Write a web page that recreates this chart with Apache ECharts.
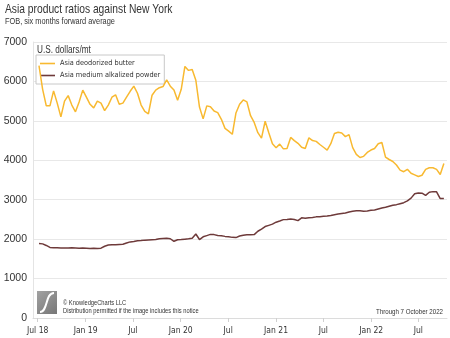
<!DOCTYPE html>
<html>
<head>
<meta charset="utf-8">
<script src="https://cdn.jsdelivr.net/npm/echarts@6/dist/echarts.min.js"></script>
<style>
html,body{margin:0;padding:0;background:#fff;}
#chart{width:450px;height:338px;}
</style>
</head>
<body>
<div id="chart"></div>
<script>
const dates = [
'2018-07-06','2018-07-20','2018-08-03','2018-08-17','2018-08-31','2018-09-14','2018-09-28','2018-10-12','2018-10-26','2018-11-09','2018-11-23','2018-12-07','2018-12-21',
'2019-01-04','2019-01-18','2019-02-01','2019-02-15','2019-03-01','2019-03-15','2019-03-29','2019-04-12','2019-04-26','2019-05-10','2019-05-24','2019-06-07','2019-06-21','2019-07-05','2019-07-19','2019-08-02','2019-08-16','2019-08-30','2019-09-13','2019-09-27','2019-10-11','2019-10-25','2019-11-08','2019-11-22','2019-12-06','2019-12-20',
'2020-01-03','2020-01-17','2020-01-31','2020-02-14','2020-02-28','2020-03-13','2020-03-27','2020-04-10','2020-04-24','2020-05-08','2020-05-22','2020-06-05','2020-06-19','2020-07-03','2020-07-17','2020-07-31','2020-08-14','2020-08-28','2020-09-11','2020-09-25','2020-10-09','2020-10-23','2020-11-06','2020-11-20','2020-12-04','2020-12-18',
'2021-01-01','2021-01-15','2021-01-29','2021-02-12','2021-02-26','2021-03-12','2021-03-26','2021-04-09','2021-04-23','2021-05-07','2021-05-21','2021-06-04','2021-06-18','2021-07-02','2021-07-16','2021-07-30','2021-08-13','2021-08-27','2021-09-10','2021-09-24','2021-10-08','2021-10-22','2021-11-05','2021-11-19','2021-12-03','2021-12-17','2021-12-31',
'2022-01-14','2022-01-28','2022-02-11','2022-02-25','2022-03-11','2022-03-25','2022-04-08','2022-04-22','2022-05-06','2022-05-20','2022-06-03','2022-06-17','2022-07-01','2022-07-15','2022-07-29','2022-08-12','2022-08-26','2022-09-09','2022-09-23','2022-10-07'];

const butter = [
6400,5800,5380,5380,5760,5450,5100,5500,5640,5400,
5230,5480,5780,5600,5420,5330,5500,5450,5260,5400,
5600,5660,5420,5450,5600,5750,5880,5700,5400,5240,
5180,5650,5780,5840,5870,6040,5880,5780,5520,5800,
6380,6280,6300,6030,5350,5050,5380,5360,5250,5210,
5040,4810,4740,4660,5200,5420,5530,5480,5130,4960,
4700,4560,4990,4700,4420,4320,4410,4290,4300,4580,
4500,4430,4330,4300,4570,4500,4480,4400,4330,4260,
4420,4680,4710,4690,4600,4650,4320,4150,4070,4100,
4200,4260,4300,4420,4450,4080,4020,3970,3880,3750,
3710,3770,3670,3630,3590,3620,3770,3810,3810,3770,
3640,3920];

const powder = [
1890,1880,1840,1790,1780,1780,1775,1775,1775,1780,
1775,1770,1775,1770,1765,1770,1760,1770,1820,1850,
1860,1860,1865,1870,1900,1930,1940,1960,1965,1975,
1980,1985,1990,2010,2015,2020,2010,1945,1985,1990,
2000,2010,2025,2130,1990,2060,2090,2120,2115,2095,
2085,2070,2060,2045,2040,2080,2100,2110,2110,2115,
2200,2255,2320,2350,2380,2430,2460,2495,2500,2510,
2500,2470,2540,2530,2545,2550,2565,2570,2580,2585,
2600,2620,2635,2650,2665,2690,2710,2720,2720,2710,
2715,2730,2740,2765,2790,2810,2835,2860,2875,2900,
2925,2970,3040,3150,3170,3165,3110,3190,3205,3200,
3030,3030];

const seriesNames = ['Asia deodorized butter', 'Asia medium alkalized powder'];
const xTickDates = ['2018-07-01','2019-01-01','2019-07-01','2020-01-01','2020-07-01','2021-01-01','2021-07-01','2022-01-01','2022-07-01'];
const xTickLabels = ['Jul 18','Jan 19','Jul','Jan 20','Jul','Jan 21','Jul','Jan 22','Jul'];
const xRange = ['2018-06-13','2022-10-19'];
const yMin = 0, yMax = 7000, yStep = 1000;

const ts = s => { const p = s.split('-').map(Number); return Date.UTC(p[0], p[1]-1, p[2]); };
const tickTs = xTickDates.map(ts);
const labelMap = {};
tickTs.forEach((t, i) => { labelMap[t] = xTickLabels[i]; });

const COND = '"DejaVu Sans Condensed","Liberation Sans",sans-serif';
const ARIAL = '"Liberation Sans",Arial,sans-serif';
const TXT = '#333333';

function label(text, x, y, size, sx, align) {
  return {type: 'text', x: x, y: y, scaleX: sx, silent: true,
    style: {text: text, x: 0, y: 0, font: size + 'px ' + ARIAL, fill: TXT,
      align: align || 'left', verticalAlign: 'middle'}};
}

const chart = echarts.init(document.getElementById('chart'), null, {renderer: 'canvas'});
chart.setOption({
  animation: false,
  backgroundColor: '#ffffff',
  legend: {
    left: 36, top: 55, orient: 'vertical', z: 1,
    backgroundColor: '#fff', borderColor: '#c8c8c8', borderWidth: 1,
    padding: [5, 4, 5, 4], itemGap: 5, itemWidth: 15, itemHeight: 1.6, icon: 'rect',
    textStyle: {fontFamily: COND, fontSize: 7.3, color: TXT},
    data: seriesNames
  },
  grid: {left: 33, right: 3, top: 42, bottom: 20, containLabel: false},
  xAxis: {
    type: 'value', min: ts(xRange[0]), max: ts(xRange[1]),
    axisLine: {show: true, lineStyle: {color: '#dcdcdc', width: 1}},
    axisTick: {show: true, customValues: tickTs, length: 4, lineStyle: {color: '#d0d0d0'}},
    axisLabel: {customValues: tickTs, formatter: v => labelMap[v] || '', margin: 8,
      fontFamily: COND, fontSize: 8.5, color: TXT},
    splitLine: {show: false}
  },
  yAxis: {
    type: 'value', min: yMin, max: yMax, interval: yStep,
    axisLine: {show: true, lineStyle: {color: '#e4e4e4', width: 1}},
    axisTick: {show: false},
    axisLabel: {margin: 6, fontFamily: ARIAL, fontSize: 10.5, color: TXT, formatter: v => String(v)},
    splitLine: {show: true, lineStyle: {color: '#e8e8e8', width: 1}}
  },
  series: [
    {name: seriesNames[0], type: 'line', symbol: 'none', z: 3, data: dates.map((d, i) => [ts(d), butter[i]]),
     lineStyle: {color: '#F8B930', width: 1.5}, itemStyle: {color: '#F8B930'}},
    {name: seriesNames[1], type: 'line', symbol: 'none', z: 3, data: dates.map((d, i) => [ts(d), powder[i]]),
     lineStyle: {color: '#6E3A3A', width: 1.5}, itemStyle: {color: '#6E3A3A'}}
  ],
  graphic: [
    label('Asia product ratios against New York', 5, 9.5, 13, 0.79),
    label('FOB, six months forward average', 5, 22, 9, 0.82),
    label('U.S. dollars/mt', 37, 50, 10, 0.82),
    label('Through 7 October 2022', 443, 311.5, 7.5, 0.82, 'right'),
    label('© KnowledgeCharts LLC', 63, 303.5, 7, 0.82),
    label('Distribution permitted if the image includes this notice', 63, 311.5, 7, 0.82),
    {type: 'rect', x: 37, y: 291, silent: true, shape: {x: 0, y: 0, width: 20, height: 23},
     style: {fill: new echarts.graphic.LinearGradient(0, 0, 1, 1, [{offset: 0, color: '#a2a2a2'}, {offset: 1, color: '#777777'}])}},
    {type: 'bezierCurve', x: 37, y: 291, silent: true,
     shape: {x1: 3, y1: 21, cpx1: 11, cpy1: 21, cpx2: 8, cpy2: 2, x2: 17, y2: 2},
     style: {fill: null, stroke: '#ffffff', lineWidth: 2}}
  ]
});
</script>
</body>
</html>
